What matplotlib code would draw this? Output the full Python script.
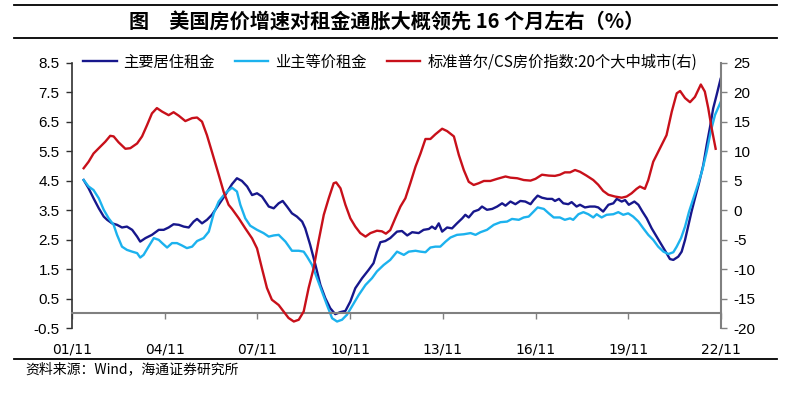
import matplotlib

matplotlib.use("Agg")
import matplotlib.pyplot as plt
from matplotlib.lines import Line2D

# Data (x in decimal years)
rent_x = [2002.21, 2002.37, 2002.53, 2002.70, 2002.86, 2002.97, 2003.13, 2003.29, 2003.45, 2003.61,
          2003.78, 2003.94, 2004.04, 2004.21, 2004.42, 2004.64, 2004.80, 2004.96, 2005.12, 2005.29,
          2005.45, 2005.61, 2005.77, 2005.88, 2006.04, 2006.20, 2006.36, 2006.58, 2006.79, 2007.01,
          2007.17, 2007.33, 2007.50, 2007.66, 2007.82, 2007.98, 2008.09, 2008.20, 2008.36, 2008.52,
          2008.65, 2008.79, 2008.95, 2009.11, 2009.28, 2009.38, 2009.54, 2009.71, 2009.87, 2010.03,
          2010.19, 2010.35, 2010.52, 2010.68, 2010.84, 2011.00, 2011.22, 2011.43, 2011.59, 2011.70,
          2011.81, 2011.97, 2012.13, 2012.35, 2012.51, 2012.68, 2012.84, 2013.05, 2013.21, 2013.38,
          2013.48, 2013.59, 2013.70, 2013.81, 2013.97, 2014.13, 2014.29, 2014.46, 2014.56, 2014.67,
          2014.83, 2014.99, 2015.10, 2015.26, 2015.43, 2015.59, 2015.75, 2015.86, 2016.02, 2016.18,
          2016.34, 2016.50, 2016.67, 2016.77, 2016.90, 2017.04, 2017.21, 2017.37, 2017.46, 2017.59,
          2017.73, 2017.89, 2018.00, 2018.16, 2018.27, 2018.43, 2018.59, 2018.75, 2018.86, 2019.02,
          2019.19, 2019.35, 2019.46, 2019.62, 2019.73, 2019.85, 2020.03, 2020.16, 2020.29, 2020.43,
          2020.59, 2020.75, 2020.91, 2021.07, 2021.18, 2021.29, 2021.45, 2021.56, 2021.67, 2021.77,
          2021.88, 2021.99, 2022.12, 2022.26, 2022.37, 2022.48, 2022.58, 2022.69, 2022.82]
rent_y = [4.52, 4.24, 3.90, 3.56, 3.28, 3.17, 3.05, 3.00, 2.91, 2.94,
          2.83, 2.60, 2.43, 2.55, 2.66, 2.83, 2.83, 2.91, 3.02, 3.00,
          2.94, 2.91, 3.11, 3.20, 3.05, 3.17, 3.34, 3.68, 4.01, 4.38,
          4.58, 4.49, 4.30, 4.01, 4.07, 3.96, 3.79, 3.62, 3.56, 3.73,
          3.81, 3.62, 3.39, 3.28, 3.11, 2.88, 2.32, 1.64, 0.96, 0.51,
          0.17, -0.03, 0.04, 0.08, 0.40, 0.85, 1.19, 1.47, 1.70, 2.09,
          2.41, 2.45, 2.55, 2.77, 2.79, 2.64, 2.75, 2.72, 2.83, 2.86,
          2.94, 2.86, 3.05, 2.77, 2.91, 2.88, 3.05, 3.22, 3.34, 3.25,
          3.45, 3.51, 3.62, 3.51, 3.54, 3.62, 3.73, 3.65, 3.79, 3.70,
          3.81, 3.79, 3.70, 3.84, 3.99, 3.92, 3.88, 3.88, 3.81, 3.88,
          3.73, 3.70, 3.77, 3.62, 3.68, 3.59, 3.62, 3.62, 3.59, 3.45,
          3.68, 3.73, 3.88, 3.79, 3.84, 3.68, 3.79, 3.68, 3.45, 3.22,
          2.88, 2.60, 2.32, 2.04, 1.84, 1.81, 1.92, 2.09, 2.49, 2.94,
          3.45, 3.90, 4.41, 5.03, 5.71, 6.33, 6.95, 7.40, 7.95]

oer_x = [2002.21, 2002.37, 2002.53, 2002.70, 2002.86, 2003.02, 2003.18, 2003.29, 2003.45, 2003.61,
         2003.78, 2003.94, 2004.04, 2004.15, 2004.31, 2004.48, 2004.64, 2004.75, 2004.91, 2005.07,
         2005.23, 2005.39, 2005.55, 2005.72, 2005.88, 2006.09, 2006.26, 2006.42, 2006.58, 2006.79,
         2007.01, 2007.17, 2007.28, 2007.44, 2007.60, 2007.82, 2008.03, 2008.20, 2008.36, 2008.52,
         2008.74, 2008.95, 2009.17, 2009.33, 2009.44, 2009.60, 2009.76, 2009.92, 2010.08, 2010.25,
         2010.41, 2010.57, 2010.73, 2010.89, 2011.11, 2011.33, 2011.54, 2011.70, 2011.92, 2012.13,
         2012.35, 2012.57, 2012.73, 2012.95, 2013.11, 2013.27, 2013.43, 2013.59, 2013.75, 2013.92,
         2014.08, 2014.29, 2014.51, 2014.73, 2014.89, 2015.05, 2015.26, 2015.48, 2015.70, 2015.91,
         2016.07, 2016.29, 2016.45, 2016.61, 2016.77, 2016.90, 2017.10, 2017.26, 2017.42, 2017.62,
         2017.78, 2017.95, 2018.05, 2018.22, 2018.38, 2018.54, 2018.70, 2018.81, 2018.97, 2019.13,
         2019.35, 2019.51, 2019.67, 2019.83, 2019.99, 2020.16, 2020.32, 2020.48, 2020.64, 2020.80,
         2020.97, 2021.13, 2021.29, 2021.40, 2021.54, 2021.67, 2021.80, 2021.94, 2022.10, 2022.23,
         2022.37, 2022.50, 2022.64, 2022.82]
oer_y = [4.52, 4.30, 4.18, 3.90, 3.51, 3.22, 3.00, 2.66, 2.26, 2.15,
         2.09, 2.04, 1.89, 1.98, 2.26, 2.55, 2.49, 2.38, 2.23, 2.38,
         2.38, 2.30, 2.21, 2.26, 2.45, 2.55, 2.77, 3.39, 3.79, 4.07,
         4.26, 4.13, 3.68, 3.22, 2.97, 2.83, 2.72, 2.60, 2.64, 2.66,
         2.43, 2.12, 2.12, 2.09, 1.92, 1.64, 1.19, 0.74, 0.29, -0.17,
         -0.28, -0.22, -0.05, 0.23, 0.62, 0.96, 1.19, 1.42, 1.64, 1.81,
         2.09, 1.98, 2.09, 2.12, 2.09, 2.07, 2.23, 2.26, 2.26, 2.43,
         2.57, 2.66, 2.68, 2.72, 2.66, 2.75, 2.83, 3.00, 3.09, 3.11,
         3.20, 3.17, 3.25, 3.28, 3.45, 3.59, 3.54, 3.39, 3.25, 3.25,
         3.17, 3.22, 3.17, 3.36, 3.43, 3.36, 3.25, 3.36, 3.25, 3.34,
         3.36, 3.43, 3.34, 3.39, 3.28, 3.11, 2.88, 2.66, 2.49, 2.26,
         2.09, 2.01, 2.07, 2.26, 2.55, 2.94, 3.45, 3.90, 4.41, 4.86,
         5.48, 6.16, 6.73, 7.16]

cs_x = [2002.21, 2002.37, 2002.53, 2002.70, 2002.91, 2003.07, 2003.18, 2003.34, 2003.56, 2003.72,
        2003.94, 2004.10, 2004.26, 2004.42, 2004.58, 2004.75, 2004.96, 2005.12, 2005.29, 2005.50,
        2005.72, 2005.88, 2006.04, 2006.20, 2006.36, 2006.58, 2006.74, 2006.90, 2007.01, 2007.23,
        2007.44, 2007.66, 2007.82, 2007.98, 2008.14, 2008.30, 2008.52, 2008.68, 2008.84, 2009.01,
        2009.17, 2009.33, 2009.49, 2009.65, 2009.81, 2009.98, 2010.14, 2010.30, 2010.38, 2010.52,
        2010.68, 2010.84, 2011.00, 2011.16, 2011.33, 2011.49, 2011.70, 2011.86, 2011.99, 2012.13,
        2012.30, 2012.46, 2012.62, 2012.78, 2012.95, 2013.11, 2013.27, 2013.43, 2013.59, 2013.81,
        2013.97, 2014.19, 2014.35, 2014.51, 2014.67, 2014.83, 2014.99, 2015.16, 2015.37, 2015.59,
        2015.86, 2016.02, 2016.24, 2016.45, 2016.67, 2016.83, 2017.04, 2017.26, 2017.46, 2017.62,
        2017.78, 2017.95, 2018.11, 2018.27, 2018.48, 2018.70, 2018.86, 2019.02, 2019.19, 2019.40,
        2019.62, 2019.78, 2019.94, 2020.10, 2020.21, 2020.37, 2020.48, 2020.64, 2020.86, 2021.07,
        2021.24, 2021.40, 2021.51, 2021.67, 2021.83, 2021.99, 2022.18, 2022.31, 2022.42, 2022.53,
        2022.66]
cs_y = [7.1, 8.2, 9.6, 10.5, 11.6, 12.6, 12.5, 11.5, 10.4, 10.5,
        11.3, 12.5, 14.4, 16.4, 17.3, 16.7, 16.1, 16.6, 16.0, 15.1,
        15.6, 15.7, 15.0, 12.7, 9.9, 6.0, 3.1, 0.9, 0.2, -1.4,
        -3.1, -4.8, -6.5, -9.9, -13.2, -15.2, -16.1, -17.2, -18.3, -18.9,
        -18.6, -17.2, -13.2, -9.9, -5.3, -0.8, 2.0, 4.55, 4.7, 3.7,
        0.9, -1.4, -2.8, -3.9, -4.5, -3.9, -3.5, -3.6, -4.0, -3.4,
        -1.3, 0.6, 2.0, 4.55, 7.4, 9.6, 12.06, 12.06, 12.85, 13.8,
        13.4, 12.5, 9.35, 6.8, 4.8, 4.26, 4.55, 4.94, 4.94, 5.3,
        5.7, 5.5, 5.4, 5.1, 5.0, 5.3, 6.0, 5.85, 5.8, 6.0,
        6.4, 6.4, 6.8, 6.5, 5.85, 5.1, 4.3, 3.25, 2.6, 2.3,
        2.1, 2.3, 2.85, 3.6, 4.0, 3.6, 5.1, 8.2, 10.5, 12.7,
        16.7, 19.8, 20.2, 19.0, 18.3, 19.2, 21.3, 20.1, 17.3, 13.9,
        10.4]

tick_years = [2001.833, 2004.833, 2007.833, 2010.833, 2013.833, 2016.833, 2019.833, 2022.833]
tick_labels = ["01/11", "04/11", "07/11", "10/11", "13/11", "16/11", "19/11", "22/11"]
left_ticks = [-0.5, 0.5, 1.5, 2.5, 3.5, 4.5, 5.5, 6.5, 7.5, 8.5]
right_ticks = [-20, -15, -10, -5, 0, 5, 10, 15, 20, 25]

label_rent = "主要居住租金"
label_oer = "业主等价租金"
label_cs = "标准普尔/CS房价指数:20个大中城市(右)"
title = "图　美国房价增速对租金通胀大概领先 16 个月左右（%）"
source = "资料来源：Wind，海通证券研究所"

CJK = ["Noto Sans CJK SC", "DejaVu Sans"]
NUM = ["Liberation Sans", "DejaVu Sans"]

C_RENT = "#17178c"
C_OER = "#1cb2ee"
C_CS = "#c8101a"
GREY = "#808080"

W, H = 793, 397
fig = plt.figure(figsize=(W / 100, H / 100), dpi=100)
ax = fig.add_axes([72 / W, 1 - 328 / H, (721 - 72) / W, (328 - 62.7) / H])
ax2 = ax.twinx()

l1, = ax.plot(rent_x, rent_y, color=C_RENT, lw=1.7, label=label_rent)
l2, = ax.plot(oer_x, oer_y, color=C_OER, lw=1.7, label=label_oer)
l3, = ax2.plot(cs_x, cs_y, color=C_CS, lw=1.7, label=label_cs)

ax.set_xlim(tick_years[0], tick_years[-1])
ax.set_ylim(-0.5, 8.5)
ax2.set_ylim(-20, 25)

ax.set_yticks(left_ticks)
ax.set_yticklabels([f"{v:.1f}" for v in left_ticks], family=NUM, fontsize=11)
ax2.set_yticks(right_ticks)
ax2.set_yticklabels([str(v) for v in right_ticks], family=NUM, fontsize=11)
ax.set_xticks(tick_years)
ax.set_xticklabels(tick_labels, family=NUM, fontsize=11)

# axes styling
for s in ["top", "right"]:
    ax.spines[s].set_visible(False)
for s in ["top", "left", "bottom"]:
    ax2.spines[s].set_visible(False)
ax.spines["bottom"].set_position(("data", 0))
ax.spines["bottom"].set_color(GREY)
ax.spines["bottom"].set_linewidth(1.5)
ax.spines["left"].set_color("#303030")
ax.spines["left"].set_linewidth(1.2)
ax2.spines["right"].set_color(GREY)
ax2.spines["right"].set_linewidth(1.5)

ax.tick_params(axis="x", direction="out", length=4, width=1, color=GREY, pad=17)
ax.tick_params(axis="y", direction="out", length=4, width=1, color="#303030", pad=5)
ax2.tick_params(axis="y", direction="out", length=4, width=1, color=GREY, pad=5)

# legend
fig.legend(
    handles=[l1, l2, l3],
    loc="center left",
    bbox_to_anchor=(83 / W, 1 - 62 / H),
    ncol=3,
    frameon=False,
    prop={"family": CJK, "size": 11},
    handlelength=2.2,
    handletextpad=0.45,
    columnspacing=1.3,
    borderpad=0,
    borderaxespad=0,
)

# title and frame lines
fig.text(387 / W, 1 - 22 / H, title, ha="center", va="center",
         fontsize=14.5, fontweight="bold", family=CJK)
for y in (5, 38, 359):
    fig.add_artist(Line2D([14 / W, 777 / W], [1 - y / H, 1 - y / H],
                          color="black", lw=1.3))
fig.text(25 / W, 1 - 369 / H, source, ha="left", va="center",
         fontsize=10, family=CJK)

fig.savefig("out.png", dpi=100)
